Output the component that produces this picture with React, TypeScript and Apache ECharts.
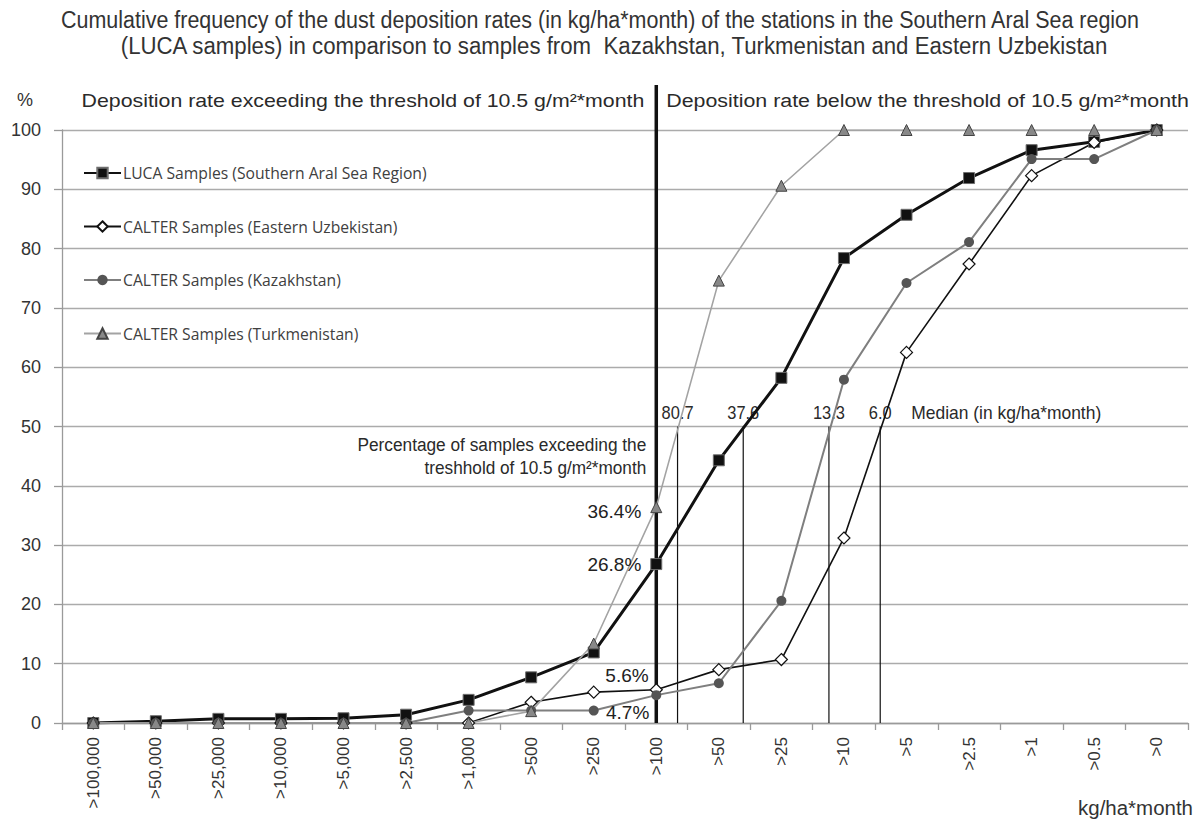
import React, { useEffect, useRef } from 'react';
import * as echarts from 'echarts';

// ---------------- data ----------------
const categories = [
  '>100,000', '>50,000', '>25,000', '>10,000', '>5,000', '>2,500', '>1,000', '>500', '>250',
  '>100', '>50', '>25', '>10', '>5', '>2.5', '>1', '>0.5', '>0',
];

const lucaValues = [0, 0.3, 0.7, 0.7, 0.8, 1.4, 3.9, 7.7, 11.9, 26.8, 44.3, 58.2, 78.4, 85.7, 91.9, 96.6, 98.0, 100];
const uzbekValues = [0, 0, 0, 0, 0, 0, 0, 3.5, 5.2, 5.6, 9.0, 10.7, 31.2, 62.5, 77.4, 92.3, 97.9, 100];
const kazakhValues = [0, 0, 0, 0, 0, 0, 2.1, 2.1, 2.1, 4.7, 6.7, 20.6, 57.9, 74.2, 81.1, 95.1, 95.1, 100];
const turkmenValues = [0, 0, 0, 0, 0, 0, 0, 2.0, 13.4, 36.4, 74.6, 90.6, 100, 100, 100, 100, 100, 100];

const seriesNames = [
  'LUCA Samples (Southern Aral Sea Region)',
  'CALTER Samples (Eastern Uzbekistan)',
  'CALTER Samples (Kazakhstan)',
  'CALTER Samples (Turkmenistan)',
];

const thresholdIndex = 9;
const thresholdLabels = ['26.8%', '5.6%', '4.7%', '36.4%'];

// median positions (fractional category index where each curve reaches 50 %)
const medianPositions = [9.34, 10.39, 11.76, 12.58];
const medianLabels = ['80.7', '37.6', '13.3', '6.0'];
const medianLevel = 50;
const medianCaption = 'Median (in kg/ha*month)';

const titleLines = [
  'Cumulative frequency of the dust deposition rates (in kg/ha*month) of the stations in the Southern Aral Sea region',
  '(LUCA samples) in comparison to samples from  Kazakhstan, Turkmenistan and Eastern Uzbekistan',
];
const headerLeft = 'Deposition rate exceeding the threshold of 10.5 g/m²*month';
const headerRight = 'Deposition rate below the threshold of 10.5 g/m²*month';
const noteLines = ['Percentage of samples exceeding the', 'treshhold of 10.5 g/m²*month'];
const xAxisName = 'kg/ha*month';
const yAxisName = '%';

const FONT = '"Liberation Sans", Arial, sans-serif';

function fitScale(text: string, size: number, width: number): number {
  const c = document.createElement('canvas').getContext('2d');
  if (!c) return 1;
  c.font = `${size}px "Liberation Sans"`;
  const w = c.measureText(text).width;
  return w > 0 ? width / w : 1;
}

export default function App() {
  const ref = useRef<HTMLDivElement>(null);

  useEffect(() => {
    if (!ref.current) return;
    const chart = echarts.init(ref.current, null, { renderer: 'svg' });

    const sTitle1 = fitScale(titleLines[0], 23, 1080);
    const sTitle2 = fitScale(titleLines[1], 23, 988);
    const sHeadL = fitScale(headerLeft, 18, 563);
    const sHeadR = fitScale(headerRight, 18, 523);
    const sNote1 = fitScale(noteLines[0], 18, 289);
    const sNote2 = fitScale(noteLines[1], 18, 222);
    const sMedian = fitScale(medianLabels[0], 18, 32);
    const sCaption = fitScale(medianCaption, 18, 190);
    const sXName = fitScale(xAxisName, 20, 115);

    const withLabel = (values: number[], text: string, extra: any) =>
      values.map((v, i) =>
        i === thresholdIndex
          ? {
              value: v,
              label: {
                show: true,
                formatter: text,
                position: 'left',
                fontFamily: FONT,
                fontSize: 19,
                color: '#222',
                ...extra,
              },
            }
          : v
      );

    const option: any = {
      animation: false,
      backgroundColor: '#ffffff',
      textStyle: { fontFamily: FONT },
      grid: { left: 62, right: 12, top: 130, bottom: 97 },
      legend: {
        data: seriesNames,
        orient: 'vertical',
        left: 78,
        top: 160,
        itemWidth: 37,
        itemHeight: 13,
        itemGap: 37.5,
        selectedMode: false,
        textStyle: { fontFamily: '"Open Sans", sans-serif', fontSize: 15.7, color: '#404040', padding: [0, 0, 0, -3] },
      },
      graphic: [
        {
          type: 'text', x: 600, y: 20, scaleX: sTitle1,
          style: { text: titleLines[0], fontFamily: FONT, fontSize: 23, fill: '#333', align: 'center', verticalAlign: 'middle' },
        },
        {
          type: 'text', x: 614, y: 46, scaleX: sTitle2,
          style: { text: titleLines[1], fontFamily: FONT, fontSize: 23, fill: '#333', align: 'center', verticalAlign: 'middle' },
        },
        {
          type: 'text', x: 25, y: 100,
          style: { text: yAxisName, fontFamily: FONT, fontSize: 18, fill: '#333', align: 'center', verticalAlign: 'middle' },
        },
        {
          type: 'text', x: 1193, y: 808, scaleX: sXName,
          style: { text: xAxisName, fontFamily: FONT, fontSize: 20, fill: '#333', align: 'right', verticalAlign: 'middle' },
        },
      ],
      xAxis: [
        {
          type: 'category',
          data: categories,
          boundaryGap: true,
          axisLine: { show: true, onZero: false, lineStyle: { color: '#9a9a9a', width: 1.3 } },
          axisTick: { show: true, length: 7, interval: 0, alignWithLabel: false, lineStyle: { color: '#9a9a9a', width: 1.3 } },
          axisLabel: { interval: 0, rotate: 90, margin: 14, fontFamily: FONT, fontSize: 17, color: '#333' },
          splitLine: { show: false },
        },
        {
          type: 'value', min: -0.5, max: 17.5, show: false,
          axisLine: { show: false, onZero: false }, splitLine: { show: false }, axisTick: { show: false }, axisLabel: { show: false },
        },
      ],
      yAxis: {
        type: 'value',
        min: 0,
        max: 100,
        interval: 10,
        axisLine: { show: true, onZero: false, lineStyle: { color: '#9a9a9a', width: 1.3 } },
        axisTick: { show: true, length: 8, lineStyle: { color: '#9a9a9a', width: 1.3 } },
        axisLabel: { margin: 21, fontFamily: FONT, fontSize: 18, color: '#333' },
        splitLine: { show: true, lineStyle: { color: '#ababab', width: 1.3 } },
      },
      series: [
        {
          type: 'custom',
          silent: true,
          xAxisIndex: 0,
          yAxisIndex: 0,
          z: 1,
          data: [[thresholdIndex, 0]],
          encode: { x: 0, y: 1 },
          renderItem: (params: any, api: any) => {
            const idx = api.value(0);
            const [x, yb] = api.coord([idx, 0]);
            const yTop = api.coord([idx, 100])[1];
            const yNote = api.coord([idx, 46.9])[1];
            const txt = (t: string, tx: number, ty: number, sx: number, align: string) => ({
              type: 'text', x: tx, y: ty, scaleX: sx,
              style: { text: t, fontFamily: FONT, fontSize: 18, fill: '#2a2a2a', align, verticalAlign: 'middle' },
            });
            return {
              type: 'group',
              children: [
                { type: 'line', shape: { x1: x, y1: yb, x2: x, y2: yTop - 45 }, style: { stroke: '#111', lineWidth: 3.5 } },
                txt(headerLeft, x - 12, yTop - 29, sHeadL, 'right'),
                txt(headerRight, x + 10, yTop - 29, sHeadR, 'left'),
                txt(noteLines[0], x - 10, yNote, sNote1, 'right'),
                txt(noteLines[1], x - 10, yNote + 23, sNote2, 'right'),
              ],
            };
          },
        },
        {
          type: 'custom',
          silent: true,
          xAxisIndex: 1,
          yAxisIndex: 0,
          z: 1,
          data: medianPositions.map((p) => [p, medianLevel]),
          encode: { x: 0, y: 1 },
          renderItem: (params: any, api: any) => {
            const [x, yt] = api.coord([api.value(0), api.value(1)]);
            const yb = api.coord([api.value(0), 0])[1];
            const children: any[] = [
              { type: 'line', shape: { x1: x, y1: yb, x2: x, y2: yt }, style: { stroke: '#111', lineWidth: 1.2 } },
              {
                type: 'text', x, y: yt - 14, scaleX: sMedian,
                style: { text: medianLabels[params.dataIndex], fontFamily: FONT, fontSize: 18, fill: '#2a2a2a', align: 'center', verticalAlign: 'middle' },
              },
            ];
            if (params.dataIndex === medianPositions.length - 1) {
              children.push({
                type: 'text', x: x + 31, y: yt - 14, scaleX: sCaption,
                style: { text: medianCaption, fontFamily: FONT, fontSize: 18, fill: '#2a2a2a', align: 'left', verticalAlign: 'middle' },
              });
            }
            return { type: 'group', children };
          },
        },
        {
          name: seriesNames[0],
          type: 'line',
          z: 3,
          data: withLabel(lucaValues, thresholdLabels[0], { distance: 9 }),
          symbol: 'rect',
          symbolSize: 11,
          showAllSymbol: true,
          lineStyle: { color: '#111', width: 3 },
          itemStyle: { color: '#111', borderColor: '#6e6e6e', borderWidth: 1 },
        },
        {
          name: seriesNames[1],
          type: 'line',
          z: 3,
          data: withLabel(uzbekValues, thresholdLabels[1], { distance: 1, offset: [0, -14] }),
          symbol: 'diamond',
          symbolSize: 12,
          showAllSymbol: true,
          lineStyle: { color: '#111', width: 1.6 },
          itemStyle: { color: '#ffffff', borderColor: '#111', borderWidth: 1.2 },
        },
        {
          name: seriesNames[2],
          type: 'line',
          z: 3,
          data: withLabel(kazakhValues, thresholdLabels[2], { distance: 2, offset: [0, 17] }),
          symbol: 'circle',
          symbolSize: 10,
          showAllSymbol: true,
          lineStyle: { color: '#7f7f7f', width: 2 },
          itemStyle: { color: '#555555' },
        },
        {
          name: seriesNames[3],
          type: 'line',
          z: 3,
          data: withLabel(turkmenValues, thresholdLabels[3], { distance: 9, offset: [0, 4] }),
          symbol: 'triangle',
          symbolSize: 11,
          showAllSymbol: true,
          lineStyle: { color: '#a3a3a3', width: 1.6 },
          itemStyle: { color: '#888888', borderColor: '#444', borderWidth: 1 },
        },
      ],
    };

    chart.setOption(option);
    return () => chart.dispose();
  }, []);

  return (
    <div
      ref={ref}
      style={{ position: 'fixed', left: 0, top: 0, width: 1200, height: 820, background: '#fff' }}
    />
  );
}
